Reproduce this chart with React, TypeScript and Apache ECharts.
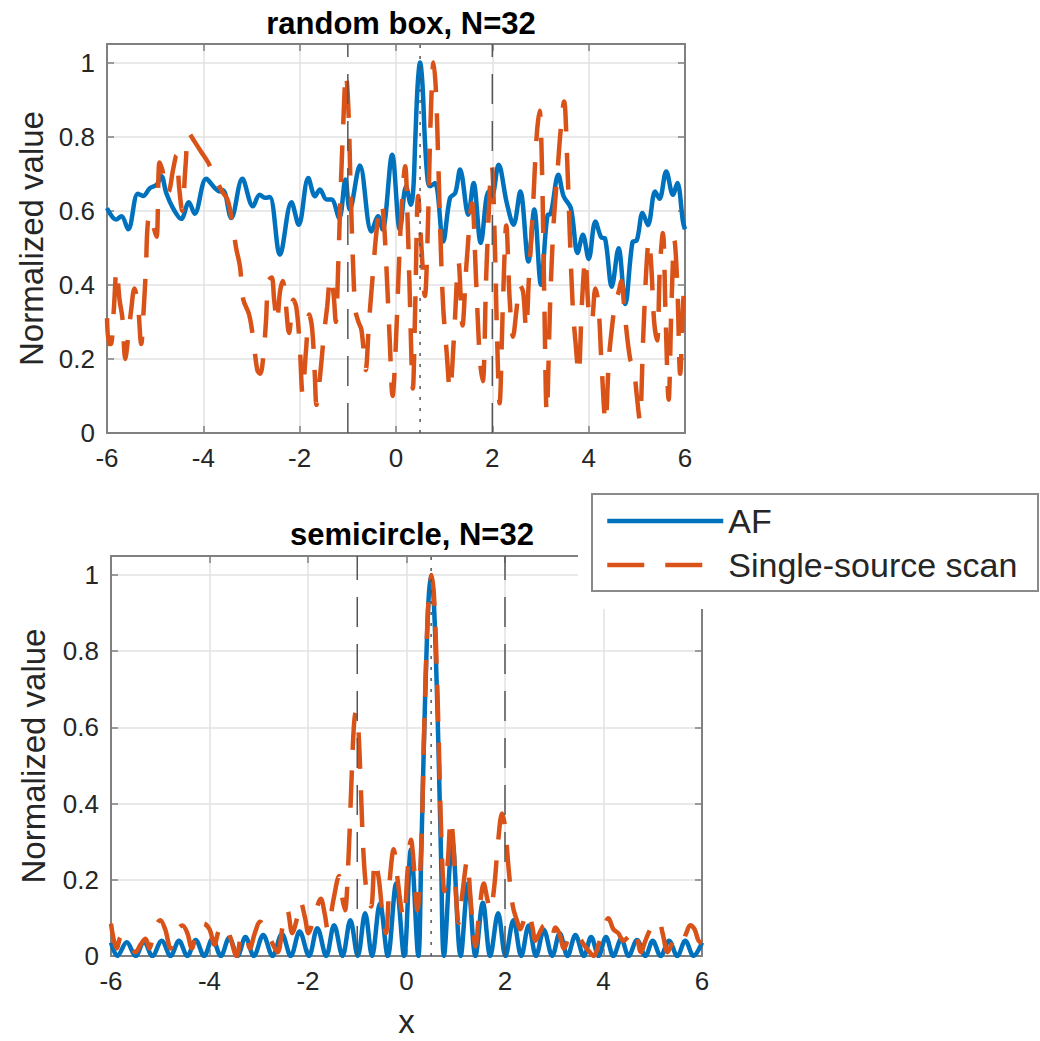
import React, { useEffect, useRef } from "react";
import * as echarts from "echarts";

// ---------- data ----------
const xMin = -6;
const xMax = 6;
const xStep = 2;
const yMin = 0;
const yMax = 1.05;
const yStep = 0.2;

const titles = ["random box, N=32", "semicircle, N=32"];
const legendNames = ["AF", "Single-source scan"];
const yName = "Normalized value";
const xName = "x";

// reference lines (x positions)
const refDashedX = [-1, 2];
const refDottedX = [0.5];

// random box: array factor
const afRandom: [number, number][] = [
  [-6.0, 0.607], [-5.81, 0.576], [-5.7, 0.585], [-5.56, 0.55], [-5.36, 0.646], [-5.25, 0.64],
  [-5.11, 0.661], [-4.97, 0.67], [-4.87, 0.693], [-4.77, 0.648], [-4.63, 0.607], [-4.46, 0.578],
  [-4.3, 0.623], [-4.18, 0.592], [-3.94, 0.686], [-3.76, 0.661], [-3.66, 0.652], [-3.59, 0.655],
  [-3.42, 0.58], [-3.19, 0.686], [-2.97, 0.612], [-2.83, 0.643], [-2.72, 0.635], [-2.62, 0.637],
  [-2.41, 0.481], [-2.17, 0.623], [-2.02, 0.562], [-1.82, 0.688], [-1.68, 0.639], [-1.58, 0.657],
  [-1.44, 0.63], [-1.34, 0.63], [-1.18, 0.58], [-1.05, 0.684], [-0.96, 0.603], [-0.75, 0.722],
  [-0.51, 0.544], [-0.37, 0.585], [-0.28, 0.549], [-0.08, 0.751], [0.08, 0.549], [0.21, 0.666],
  [0.31, 0.616], [0.36, 0.66], [0.4, 0.79], [0.45, 0.94], [0.5, 1.0], [0.55, 0.94], [0.6, 0.79],
  [0.66, 0.68], [0.71, 0.666], [0.81, 0.675], [0.98, 0.517], [1.12, 0.634], [1.23, 0.648],
  [1.33, 0.711], [1.5, 0.589], [1.61, 0.675], [1.76, 0.513], [1.92, 0.652], [1.99, 0.64],
  [2.13, 0.724], [2.3, 0.621], [2.44, 0.562], [2.58, 0.652], [2.75, 0.463], [2.87, 0.603],
  [3.01, 0.4], [3.15, 0.589], [3.2, 0.59], [3.37, 0.697], [3.48, 0.639], [3.63, 0.607],
  [3.77, 0.486], [3.88, 0.535], [4.0, 0.47], [4.14, 0.571], [4.26, 0.528], [4.34, 0.525],
  [4.48, 0.395], [4.62, 0.499], [4.76, 0.348], [4.91, 0.515], [5.0, 0.52], [5.12, 0.594],
  [5.23, 0.561], [5.38, 0.652], [5.47, 0.632], [5.61, 0.706], [5.75, 0.643], [5.84, 0.675],
  [5.96, 0.569], [6.0, 0.55],
];

// random box: single-source scan
const scanRandom: [number, number][] = [
  [-6.0, 0.31], [-5.96, 0.24], [-5.92, 0.24], [-5.86, 0.33], [-5.8, 0.44], [-5.74, 0.36],
  [-5.68, 0.31], [-5.62, 0.2], [-5.56, 0.26], [-5.5, 0.33], [-5.43, 0.39], [-5.36, 0.35],
  [-5.29, 0.24], [-5.24, 0.33], [-5.19, 0.45], [-5.15, 0.57], [-5.08, 0.59], [-5.02, 0.55],
  [-4.97, 0.53], [-4.91, 0.73], [-4.85, 0.71], [-4.79, 0.66], [-4.73, 0.65], [-4.63, 0.71],
  [-4.56, 0.75], [-4.5, 0.66], [-4.44, 0.6], [-4.37, 0.72], [-4.3, 0.81], [-4.2, 0.79],
  [-4.05, 0.76], [-3.9, 0.73], [-3.76, 0.69], [-3.6, 0.65], [-3.5, 0.63], [-3.42, 0.585],
  [-3.32, 0.5], [-3.24, 0.45], [-3.17, 0.36], [-3.05, 0.32], [-2.97, 0.26], [-2.88, 0.17],
  [-2.82, 0.16], [-2.76, 0.2], [-2.7, 0.3], [-2.65, 0.41], [-2.58, 0.42], [-2.53, 0.36],
  [-2.47, 0.3], [-2.41, 0.38], [-2.35, 0.41], [-2.29, 0.35], [-2.22, 0.27], [-2.13, 0.36],
  [-2.07, 0.34], [-2.0, 0.24], [-1.94, 0.107], [-1.87, 0.22], [-1.8, 0.32], [-1.74, 0.28],
  [-1.69, 0.17], [-1.65, 0.076], [-1.58, 0.15], [-1.5, 0.26], [-1.43, 0.34], [-1.36, 0.42],
  [-1.3, 0.38], [-1.25, 0.3], [-1.2, 0.45], [-1.15, 0.65], [-1.09, 0.85], [-1.04, 0.97],
  [-0.99, 0.88], [-0.94, 0.65], [-0.89, 0.45], [-0.84, 0.33], [-0.78, 0.3], [-0.72, 0.28],
  [-0.67, 0.22], [-0.63, 0.17], [-0.56, 0.3], [-0.48, 0.43], [-0.4, 0.55], [-0.32, 0.62],
  [-0.27, 0.6], [-0.2, 0.45], [-0.13, 0.25], [-0.07, 0.1], [-0.01, 0.22], [0.06, 0.45],
  [0.13, 0.64], [0.19, 0.72], [0.24, 0.58], [0.28, 0.4], [0.35, 0.12], [0.4, 0.35],
  [0.46, 0.64], [0.52, 0.52], [0.6, 0.37], [0.66, 0.55], [0.72, 0.85], [0.78, 1.0],
  [0.83, 0.92], [0.88, 0.72], [0.93, 0.5], [0.98, 0.34], [1.05, 0.22], [1.12, 0.116],
  [1.2, 0.25], [1.3, 0.46], [1.38, 0.29], [1.46, 0.45], [1.58, 0.62], [1.66, 0.42],
  [1.74, 0.2], [1.8, 0.14], [1.88, 0.45], [1.99, 0.72], [2.05, 0.52], [2.1, 0.25],
  [2.15, 0.08], [2.22, 0.35], [2.29, 0.56], [2.36, 0.36], [2.43, 0.26], [2.5, 0.33],
  [2.57, 0.4], [2.64, 0.38], [2.7, 0.28], [2.76, 0.42], [2.84, 0.6], [2.92, 0.8],
  [2.98, 0.87], [3.03, 0.72], [3.08, 0.35], [3.13, 0.055], [3.2, 0.35], [3.27, 0.56],
  [3.35, 0.7], [3.42, 0.82], [3.49, 0.895], [3.55, 0.75], [3.61, 0.53], [3.67, 0.34],
  [3.73, 0.24], [3.79, 0.16], [3.86, 0.35], [3.93, 0.47], [4.0, 0.33], [4.06, 0.3],
  [4.14, 0.39], [4.2, 0.35], [4.27, 0.18], [4.35, 0.03], [4.42, 0.2], [4.48, 0.28],
  [4.55, 0.35], [4.62, 0.38], [4.68, 0.41], [4.75, 0.32], [4.86, 0.2], [4.93, 0.18],
  [5.0, 0.1], [5.06, 0.035], [5.13, 0.25], [5.2, 0.45], [5.25, 0.52], [5.3, 0.45],
  [5.36, 0.3], [5.42, 0.25], [5.48, 0.45], [5.54, 0.54], [5.6, 0.3], [5.66, 0.09],
  [5.72, 0.35], [5.78, 0.52], [5.84, 0.4], [5.9, 0.16], [5.96, 0.35], [6.0, 0.41],
];

// semicircle: array factor
const afSemi: [number, number][] = [
  [-6.0, 0.035], [-5.87, 0.0], [-5.68, 0.036], [-5.5, 0.0], [-5.33, 0.038], [-5.16, 0.0],
  [-4.97, 0.04], [-4.79, 0.0], [-4.62, 0.04], [-4.45, 0.0], [-4.28, 0.042], [-4.11, 0.0],
  [-3.94, 0.045], [-3.77, 0.0], [-3.6, 0.048], [-3.43, 0.0], [-3.27, 0.05], [-3.1, 0.0],
  [-2.91, 0.055], [-2.72, 0.0], [-2.53, 0.058], [-2.35, 0.0], [-2.17, 0.064], [-1.98, 0.0],
  [-1.81, 0.073], [-1.63, 0.0], [-1.47, 0.081], [-1.3, 0.0], [-1.14, 0.094], [-0.99, 0.0],
  [-0.84, 0.112], [-0.7, 0.0], [-0.54, 0.138], [-0.38, 0.0], [-0.21, 0.19], [-0.05, 0.0],
  [0.09, 0.28], [0.24, 0.0], [0.3, 0.27], [0.35, 0.54], [0.4, 0.77], [0.45, 0.94],
  [0.5, 1.0], [0.55, 0.94], [0.6, 0.77], [0.65, 0.54], [0.7, 0.27], [0.76, 0.0],
  [0.93, 0.3], [1.1, 0.0], [1.25, 0.19], [1.4, 0.0], [1.55, 0.14], [1.7, 0.0],
  [1.86, 0.112], [2.01, 0.0], [2.17, 0.094], [2.33, 0.0], [2.48, 0.08], [2.63, 0.0],
  [2.79, 0.068], [2.96, 0.0], [3.11, 0.06], [3.27, 0.0], [3.43, 0.055], [3.6, 0.0],
  [3.75, 0.05], [3.9, 0.0], [4.05, 0.05], [4.2, 0.0], [4.36, 0.045], [4.51, 0.0],
  [4.68, 0.042], [4.85, 0.0], [5.0, 0.04], [5.16, 0.0], [5.33, 0.04], [5.5, 0.0],
  [5.66, 0.04], [5.83, 0.0], [6.0, 0.035],
];

// semicircle: single-source scan
const scanSemi: [number, number][] = [
  [-6.0, 0.085], [-5.94, 0.04], [-5.88, 0.02], [-5.8, 0.05], [-5.72, 0.05], [-5.62, 0.03],
  [-5.5, 0.01], [-5.4, 0.03], [-5.3, 0.045], [-5.22, 0.02], [-5.12, 0.07], [-5.0, 0.094],
  [-4.9, 0.07], [-4.79, 0.02], [-4.7, 0.06], [-4.55, 0.08], [-4.45, 0.06], [-4.36, 0.02],
  [-4.25, 0.07], [-4.12, 0.085], [-4.0, 0.07], [-3.9, 0.03], [-3.8, 0.07], [-3.68, 0.08],
  [-3.58, 0.05], [-3.45, 0.0], [-3.36, 0.05], [-3.28, 0.06], [-3.18, 0.02], [-3.08, 0.06],
  [-2.97, 0.09], [-2.85, 0.07], [-2.75, 0.04], [-2.62, 0.01], [-2.5, 0.09], [-2.42, 0.12],
  [-2.32, 0.06], [-2.22, 0.1], [-2.15, 0.142], [-2.06, 0.1], [-1.99, 0.06], [-1.88, 0.1],
  [-1.74, 0.15], [-1.66, 0.11], [-1.6, 0.07], [-1.48, 0.15], [-1.37, 0.21], [-1.3, 0.15],
  [-1.25, 0.12], [-1.18, 0.25], [-1.12, 0.45], [-1.07, 0.6], [-1.03, 0.64], [-0.98, 0.6],
  [-0.93, 0.45], [-0.87, 0.26], [-0.8, 0.16], [-0.72, 0.13], [-0.64, 0.25], [-0.56, 0.2],
  [-0.48, 0.1], [-0.42, 0.06], [-0.34, 0.2], [-0.26, 0.28], [-0.18, 0.2], [-0.1, 0.12],
  [-0.05, 0.1], [0.02, 0.22], [0.09, 0.305], [0.16, 0.22], [0.22, 0.12], [0.3, 0.29],
  [0.35, 0.55], [0.4, 0.78], [0.45, 0.94], [0.51, 1.0], [0.56, 0.94], [0.61, 0.77],
  [0.66, 0.54], [0.71, 0.3], [0.77, 0.17], [0.84, 0.25], [0.9, 0.36], [0.95, 0.3],
  [1.0, 0.17], [1.06, 0.087], [1.14, 0.17], [1.23, 0.25], [1.3, 0.15], [1.36, 0.06],
  [1.4, 0.025], [1.48, 0.12], [1.57, 0.19], [1.64, 0.15], [1.7, 0.12], [1.78, 0.18],
  [1.86, 0.3], [1.94, 0.374], [2.0, 0.34], [2.08, 0.22], [2.16, 0.13], [2.25, 0.09],
  [2.31, 0.07], [2.4, 0.1], [2.47, 0.116], [2.55, 0.08], [2.62, 0.04], [2.7, 0.06],
  [2.79, 0.08], [2.88, 0.05], [2.95, 0.05], [3.02, 0.075], [3.1, 0.06], [3.2, 0.02],
  [3.3, 0.05], [3.4, 0.06], [3.5, 0.05], [3.6, 0.03], [3.72, 0.01], [3.8, 0.0],
  [3.9, 0.03], [4.0, 0.07], [4.1, 0.099], [4.2, 0.07], [4.3, 0.06], [4.4, 0.04],
  [4.5, 0.05], [4.6, 0.07], [4.68, 0.05], [4.76, 0.01], [4.85, 0.04], [4.95, 0.07],
  [5.05, 0.085], [5.12, 0.094], [5.2, 0.06], [5.3, 0.01], [5.38, 0.03], [5.45, 0.05],
  [5.52, 0.04], [5.6, 0.04], [5.68, 0.06], [5.76, 0.081], [5.85, 0.07], [5.93, 0.04],
  [6.0, 0.034],
];

// ---------- styles ----------
const FONT = "'Liberation Sans', Arial, Helvetica, sans-serif";
const BLUE = "#0072BD";
const ORANGE = "#D95319";
const AXIS = "#808080";
const GRIDC = "#e2e2e2";
const TEXT = "#262626";
const SCAN_DASH = [37, 21];
const LW = 4.5;

const grids = [
  { left: 107, top: 44, width: 578, height: 389 },
  { left: 111, top: 556, width: 591, height: 400 },
];

function xAxisPair(gi: number, withName: boolean) {
  const base = {
    type: "value" as const,
    gridIndex: gi,
    min: xMin,
    max: xMax,
    interval: xStep,
    axisLine: { show: true, onZero: false, lineStyle: { color: AXIS, width: 2 } },
    axisTick: { show: true, inside: true, length: 7, lineStyle: { color: AXIS, width: 1.5 } },
  };
  return [
    {
      ...base,
      position: "bottom",
      axisLabel: { fontSize: 26, color: TEXT, fontFamily: FONT, margin: 12 },
      splitLine: { show: true, lineStyle: { color: GRIDC, width: 1.5 } },
      name: withName ? xName : "",
      nameLocation: "middle",
      nameGap: 49,
      nameTextStyle: { fontSize: 33, color: TEXT, fontFamily: FONT },
    },
    {
      ...base,
      position: "top",
      axisLabel: { show: false },
      splitLine: { show: false },
    },
  ];
}

function yAxisPair(gi: number, gap: number) {
  const base = {
    type: "value" as const,
    gridIndex: gi,
    min: yMin,
    max: yMax,
    interval: yStep,
    axisLine: { show: true, onZero: false, lineStyle: { color: AXIS, width: 2 } },
    axisTick: { show: true, inside: true, length: 7, lineStyle: { color: AXIS, width: 1.5 } },
  };
  return [
    {
      ...base,
      position: "left",
      axisLabel: { fontSize: 26, color: TEXT, fontFamily: FONT, margin: 12, showMaxLabel: false },
      splitLine: { show: true, lineStyle: { color: GRIDC, width: 1.5 } },
      name: yName,
      nameLocation: "middle",
      nameGap: gap,
      nameTextStyle: { fontSize: 33, color: TEXT, fontFamily: FONT },
    },
    {
      ...base,
      position: "right",
      axisLabel: { show: false },
      splitLine: { show: false },
    },
  ];
}

function refSeries(axisIdx: number, xs: number[], dash: number[]) {
  return xs.map((x) => ({
    type: "line",
    xAxisIndex: axisIdx,
    yAxisIndex: axisIdx,
    data: [
      [x, yMin],
      [x, yMax],
    ],
    symbol: "none",
    silent: true,
    z: 6,
    lineStyle: { color: "#555555", width: 1.5, type: dash },
  }));
}

function curve(name: string, axisIdx: number, data: [number, number][], dashed: boolean) {
  return {
    type: "line",
    name,
    xAxisIndex: axisIdx,
    yAxisIndex: axisIdx,
    data,
    symbol: "none",
    smooth: 0.35,
    z: dashed ? 4 : 3,
    lineStyle: dashed
      ? { color: ORANGE, width: LW, type: SCAN_DASH }
      : { color: BLUE, width: LW },
    itemStyle: { color: dashed ? ORANGE : BLUE },
  };
}

export default function App() {
  const ref = useRef<HTMLDivElement>(null);

  useEffect(() => {
    if (!ref.current) return;
    const chart = echarts.init(ref.current, undefined, { renderer: "svg" });

    const hiddenSymbol = { color: "rgba(0,0,0,0)", opacity: 0, borderWidth: 0 };

    const option: any = {
      animation: false,
      backgroundColor: "#ffffff",
      title: [
        {
          text: titles[0],
          left: 396,
          top: 3,
          textAlign: "center",
          textStyle: { fontSize: 31, fontWeight: "bold", color: "#000", fontFamily: FONT },
        },
        {
          text: titles[1],
          left: 407,
          top: 514,
          textAlign: "center",
          textStyle: { fontSize: 31, fontWeight: "bold", color: "#000", fontFamily: FONT },
        },
      ],
      grid: grids.map((g) => ({ ...g, containLabel: false })),
      xAxis: [...xAxisPair(0, false), ...xAxisPair(1, true)],
      yAxis: [...yAxisPair(0, 58), ...yAxisPair(1, 61)],
      legend: {
        orient: "vertical",
        left: 592,
        top: 494,
        z: 20,
        selectedMode: false,
        padding: [7, 14, 6, 13],
        itemGap: 4,
        itemWidth: 116,
        itemHeight: 12,
        textStyle: { fontSize: 34, color: TEXT, fontFamily: FONT, lineHeight: 40 },
        data: [
          {
            name: legendNames[0],
            lineStyle: { color: BLUE, width: LW },
            itemStyle: hiddenSymbol,
          },
          {
            name: legendNames[1],
            lineStyle: { color: ORANGE, width: LW, type: SCAN_DASH },
            itemStyle: hiddenSymbol,
          },
        ],
      },
      graphic: [
        {
          type: "rect",
          z: 10,
          silent: true,
          shape: { x: 578, y: 470, width: 462, height: 139 },
          style: { fill: "#ffffff" },
        },
        {
          type: "rect",
          z: 12,
          silent: true,
          shape: { x: 592, y: 494, width: 446, height: 97 },
          style: { fill: "#ffffff", stroke: "#8a8a8a", lineWidth: 2 },
        },
      ],
      series: [
        curve(legendNames[0], 0, afRandom, false),
        curve(legendNames[1], 0, scanRandom, true),
        curve(legendNames[0], 2, afSemi, false),
        curve(legendNames[1], 2, scanSemi, true),
        ...refSeries(0, refDashedX, [30, 17]),
        ...refSeries(0, refDottedX, [3, 8]),
        ...refSeries(2, refDashedX, [30, 17]),
        ...refSeries(2, refDottedX, [3, 8]),
      ],
    };
    chart.setOption(option);
    return () => chart.dispose();
  }, []);

  return (
    <div
      ref={ref}
      style={{ position: "fixed", left: 0, top: 0, width: 1040, height: 1041, background: "#fff" }}
    />
  );
}
